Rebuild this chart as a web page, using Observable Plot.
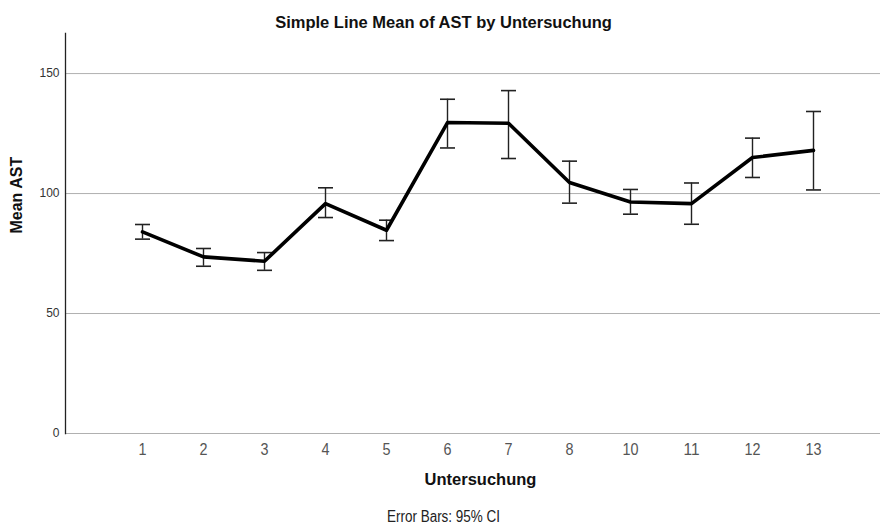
<!DOCTYPE html>
<html>
<head>
<meta charset="utf-8">
<script src="https://cdn.jsdelivr.net/npm/d3@7"></script>
<script src="https://cdn.jsdelivr.net/npm/@observablehq/plot@0.6"></script>
<style>
  html, body { margin: 0; padding: 0; background: #fff; }
  #chart svg { display: block; }
</style>
</head>
<body>
<div id="chart"></div>
<script>
const untersuchung = ["1", "2", "3", "4", "5", "6", "7", "8", "10", "11", "12", "13"];
const meanAST  = [84.0, 73.6, 71.8, 95.8, 84.7, 129.6, 129.3, 104.6, 96.5, 95.8, 115.0, 118.0];
const ciLower  = [81.0, 69.7, 68.0, 90.0, 80.4, 119.0, 114.6, 96.0, 91.4, 87.2, 106.7, 101.5];
const ciUpper  = [87.1, 77.1, 75.4, 102.4, 88.9, 139.3, 142.9, 113.5, 101.7, 104.4, 123.1, 134.2];
const yTicks = [0, 50, 100, 150];

const data = untersuchung.map((u, i) => ({u, mean: meanAST[i], lo: ciLower[i], hi: ciUpper[i]}));

const font = "'Liberation Sans', Arial, sans-serif";

// horizontal cap symbol: half-width equals the dot radius
const capSymbol = {
  draw(context, size) {
    const r = Math.sqrt(size / Math.PI);
    context.moveTo(-r, 0);
    context.lineTo(r, 0);
  }
};

const frameMidX = (65 + 880) / 2;   // 472.5

const chart = Plot.plot({
  width: 880,
  height: 527,
  marginTop: 33,
  marginBottom: 94,
  marginLeft: 65,
  marginRight: 0,
  style: {fontFamily: font, background: "#fff"},
  x: {type: "point", domain: untersuchung, range: [137, 817], padding: 0, align: 0.5},
  y: {domain: [0, 166.7]},
  marks: [
    Plot.gridY(yTicks.slice(1), {stroke: "#b0b0b0", strokeOpacity: 1, strokeWidth: 1}),
    Plot.ruleY([0], {stroke: "#b0b0b0", strokeWidth: 1}),
    Plot.axisY({ticks: yTicks, tickSize: 0, tickPadding: 6, fontSize: 12, fill: "#333", label: null}),
    Plot.axisX({tickSize: 0, tickPadding: 10, fontSize: 16.5, fill: "#555", label: null, className: "xticks"}),
    Plot.frame({anchor: "left", stroke: "#222", strokeWidth: 1.3}),
    Plot.ruleX(data, {x: "u", y1: "lo", y2: "hi", stroke: "#222", strokeWidth: 1.4}),
    Plot.dot(data, {x: "u", y: "lo", symbol: capSymbol, r: 7.5, stroke: "#222", strokeWidth: 1.6, fill: "none"}),
    Plot.dot(data, {x: "u", y: "hi", symbol: capSymbol, r: 7.5, stroke: "#222", strokeWidth: 1.6, fill: "none"}),
    Plot.line(data, {x: "u", y: "mean", stroke: "#000", strokeWidth: 3.6, strokeLinejoin: "round"}),
    Plot.text(["Simple Line Mean of AST by Untersuchung"], {frameAnchor: "top", dx: 443 - frameMidX, dy: -17, fontSize: 16.5, fontWeight: "bold", fill: "#111"}),
    Plot.text(["Untersuchung"], {frameAnchor: "bottom", dx: 480 - frameMidX, dy: 51, fontSize: 16.5, fontWeight: "bold", fill: "#111"}),
    Plot.text(["Error Bars: 95% CI"], {frameAnchor: "bottom", dx: 443 - frameMidX, dy: 88, fontSize: 16, fill: "#222", className: "ebnote"}),
    Plot.text(["Mean AST"], {frameAnchor: "left", dx: -49, dy: 0, rotate: -90, fontSize: 16, fontWeight: "bold", fill: "#111"})
  ]
});

// condensed look of the footnote (reference uses a narrow face)
d3.select(chart).selectAll(".ebnote text")
  .attr("textLength", 113)
  .attr("lengthAdjust", "spacingAndGlyphs");
// narrow digits on the x axis
d3.select(chart).selectAll(".xticks text").each(function() {
  const n = this.textContent.length;
  d3.select(this).attr("textLength", 8 * n).attr("lengthAdjust", "spacingAndGlyphs");
});

document.getElementById("chart").appendChild(chart);
</script>
</body>
</html>
